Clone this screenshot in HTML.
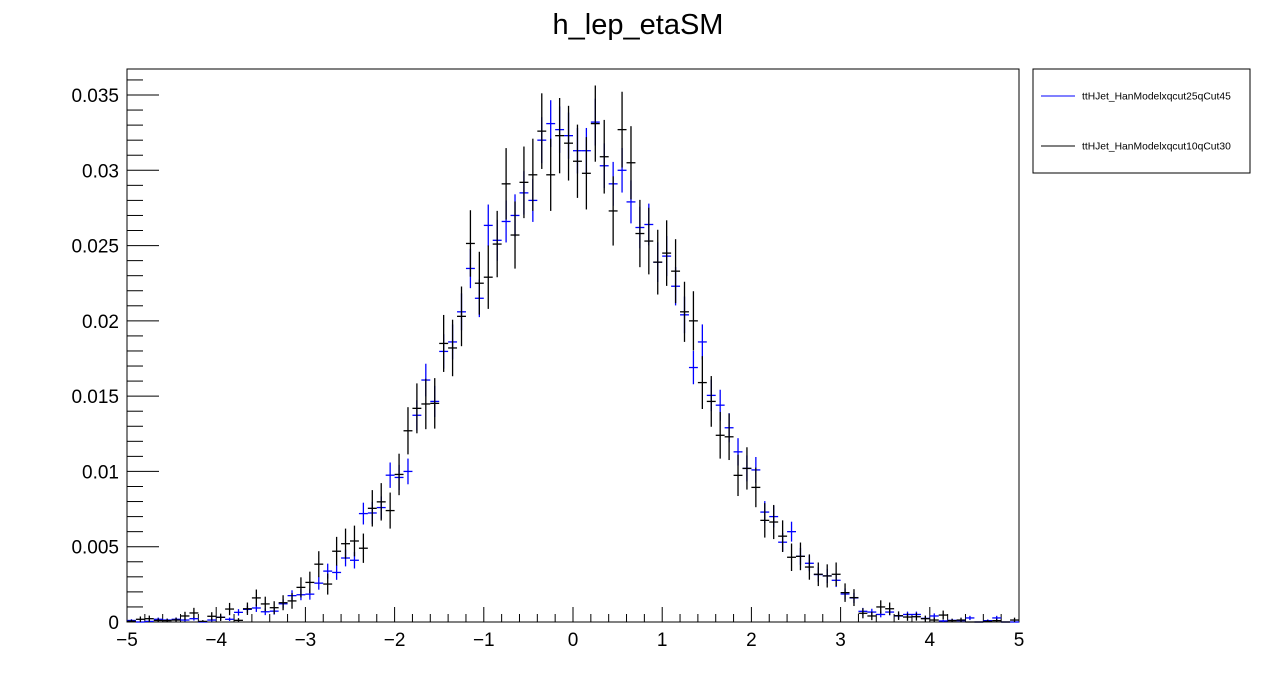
<!DOCTYPE html>
<html><head><meta charset="utf-8"><style>
body{margin:0;background:#fff;}
svg{display:block;font-family:"Liberation Sans",Arial,sans-serif;}
</style></head><body>
<svg id="c" width="1276" height="692">
<text x="638" y="34" text-anchor="middle" font-size="29">h_lep_etaSM</text>
<rect x="127" y="69" width="892" height="553" fill="none" stroke="#000" stroke-width="1"/>
<g id="axes"></g>
<g id="series"></g>
<g>
<rect x="1033" y="69" width="217" height="104" fill="#fff" stroke="#000"/>
<line x1="1041" y1="96" x2="1075" y2="96" stroke="#0000ff"/>
<text x="1082" y="99.5" font-size="10.3">ttHJet_HanModelxqcut25qCut45</text>
<line x1="1041" y1="146" x2="1075" y2="146" stroke="#000"/>
<text x="1082" y="149.5" font-size="10.3">ttHJet_HanModelxqcut10qCut30</text>
</g>
</svg>
<script>
const xMin=-5, xMax=5, nBins=100;
const xTicks=[-5,-4,-3,-2,-1,0,1,2,3,4,5];
const xTickLabels=["\u22125","\u22124","\u22123","\u22122","\u22121","0","1","2","3","4","5"];
const yTicks=[0,0.005,0.01,0.015,0.02,0.025,0.03,0.035];
const yTickLabels=["0","0.005","0.01","0.015","0.02","0.025","0.03","0.035"];
// values in units of 1e-3
const blueVals=[0.1,0,0.04,0.18,0.13,0.18,0.13,0.22,0,0.13,0.31,0.18,0.64,0.84,0.93,0.68,0.72,1.21,1.75,1.81,1.85,2.58,3.38,3.29,4.25,4.1,7.2,7.24,7.6,9.75,9.6,10.0,13.73,16.07,14.65,17.97,18.6,20.6,23.48,21.5,26.34,25.35,26.6,27.0,28.5,28.0,32.0,33.1,32.7,32.3,31.3,31.3,33.2,30.3,29.1,30.0,27.9,26.2,26.4,23.9,24.3,22.3,20.4,16.9,18.6,15.05,14.4,12.9,11.3,10.2,10.1,7.3,7.0,5.3,6.0,4.36,3.9,3.15,3.06,2.77,1.86,1.6,0.71,0.66,0.5,0.66,0.4,0.5,0.5,0.24,0.4,0.07,0.11,0.09,0.27,0,0.09,0.27,0,0];
const blackVals=[0.05,0.18,0.22,0.1,0.09,0.13,0.4,0.6,0.04,0.38,0.31,0.86,0.11,0.88,1.6,1.2,0.95,1.28,1.4,2.3,2.63,3.84,2.52,4.7,5.2,5.38,4.9,7.55,7.98,7.4,9.8,12.7,14.19,14.48,14.52,18.5,18.2,20.3,25.14,22.5,22.9,25.1,29.1,25.7,29.2,29.7,32.6,29.7,32.3,31.8,30.6,29.8,33.1,30.9,27.3,32.7,30.5,25.8,25.3,23.9,24.5,23.3,20.6,20.0,15.9,14.65,12.4,12.3,9.74,10.2,8.94,6.75,6.64,5.7,4.3,4.36,3.65,3.17,3.06,3.17,1.95,1.62,0.58,0.4,1.0,0.88,0.42,0.33,0.35,0.22,0.13,0.46,0.09,0.13,0,0,0.04,0.09,0,0.13];
const X0=127,X1=1019,Y0=622,Y1=95;
function xs(v){return X0+(v-xMin)/(xMax-xMin)*(X1-X0);}
function ys(v){return Y0-v/0.035*(Y0-Y1);}
const NS="http://www.w3.org/2000/svg";
function mk(tag,attrs,parent){const e=document.createElementNS(NS,tag);for(const k in attrs)e.setAttribute(k,attrs[k]);parent.appendChild(e);return e;}
const axes=document.getElementById('axes');
for(let i=0;i<=36;i++){const v=i*0.001;if(v>0.0366)break;const y=ys(v);const major=i%5===0;
 const t=mk('line',{x1:X0,y1:y,x2:X0+(major?32:16),y2:y,stroke:'#000'},axes);
 
 }
yTicks.forEach((v,i)=>{const t=mk('text',{x:119,y:ys(v)+7,'text-anchor':'end','font-size':19},axes);t.textContent=yTickLabels[i];
 
 });
for(let i=0;i<=50;i++){const v=xMin+i*0.2;const x=xs(v);const major=i%5===0;
 const t=mk('line',{x1:x,y1:Y0,x2:x,y2:Y0-(major?15:8),stroke:'#000'},axes);
 
 }
xTicks.forEach((v,i)=>{const t=mk('text',{x:xs(v),y:646,'text-anchor':'middle','font-size':19},axes);t.textContent=xTickLabels[i];
 
 });
const ser=document.getElementById('series');
function draw(vals,color,k,name){const g=mk('g',{},ser);
 
 
 const w=(xMax-xMin)/nBins;
 vals.forEach((v,i)=>{const xa=xMin+i*w,xc=xa+w/2;const e=k*Math.sqrt(v)*0.001;const val=v*0.001;
  const h=mk('line',{x1:xs(xa),y1:ys(val),x2:xs(xa+w),y2:ys(val),stroke:color,'stroke-width':1.3},g);
  
  
  if(v>0){const vl=mk('line',{x1:xs(xc),y1:ys(Math.min(val+e,0.0366)),x2:xs(xc),y2:ys(Math.max(val-e,0)),stroke:color,'stroke-width':1.3},g);
  
  }
 });}
draw(blueVals,'#0000ff',0.27,'series-qcut25');
draw(blackVals,'#000000',0.44,'series-qcut10');
</script>
</body></html>
